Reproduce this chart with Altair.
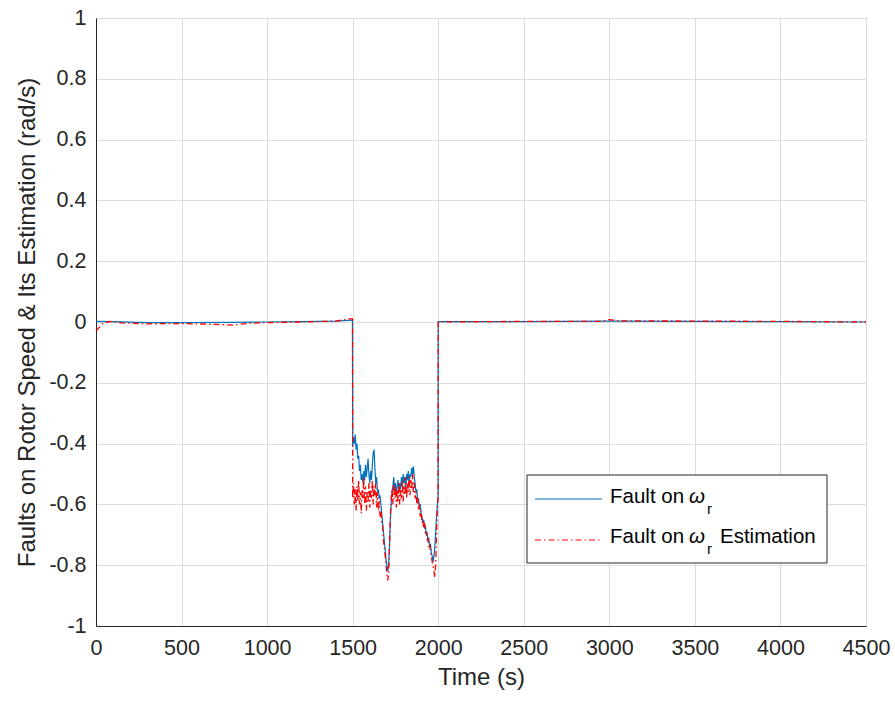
import altair as alt
import pandas as pd

# ---- fault signal on rotor speed (blue) ----
t_fault_pre = [0, 100, 300, 500, 800, 1000, 1200, 1400, 1499]
v_fault_pre = [0.002, 0.001, -0.002, -0.002, -0.001, 0.0, 0.001, 0.003, 0.006]

t_fault_mid = list(range(1500, 2000, 5)) + [1999]
v_fault_mid = [
    -0.41, -0.38, -0.40, -0.37, -0.42, -0.40, -0.45, -0.44, -0.49, -0.47,
    -0.52, -0.50, -0.53, -0.49, -0.52, -0.47, -0.51, -0.48, -0.45, -0.50,
    -0.53, -0.49, -0.52, -0.47, -0.43, -0.42, -0.48, -0.53, -0.51, -0.56,
    -0.55, -0.58, -0.57, -0.60, -0.63, -0.66, -0.69, -0.72, -0.75, -0.78,
    -0.80, -0.82, -0.80, -0.74, -0.66, -0.60, -0.56, -0.54, -0.51, -0.55,
    -0.53, -0.57, -0.54, -0.52, -0.56, -0.53, -0.55, -0.51, -0.54, -0.50,
    -0.53, -0.51, -0.55, -0.50, -0.52, -0.49, -0.53, -0.50, -0.51, -0.48,
    -0.50, -0.475, -0.51, -0.53, -0.56, -0.55, -0.59, -0.58, -0.61, -0.60,
    -0.63, -0.64, -0.66, -0.65, -0.68, -0.67, -0.70, -0.69, -0.72, -0.71,
    -0.74, -0.73, -0.76, -0.77, -0.79, -0.77, -0.74, -0.69, -0.64, -0.60,
    -0.58,
]

t_fault_post = [2000, 2500, 3000, 3500, 4000, 4500]
v_fault_post = [0.001, 0.001, 0.003, 0.002, 0.001, 0.0]

# ---- estimated fault (red, dash-dot) ----
t_est_pre = [0, 15, 40, 80, 150, 300, 500, 700, 800, 900, 1000, 1200, 1400, 1480, 1499]
v_est_pre = [-0.03, -0.02, -0.005, 0.002, -0.003, -0.006, -0.005, -0.008, -0.01,
             -0.004, -0.002, 0.0, 0.003, 0.01, 0.01]

t_est_mid = list(range(1500, 2000, 5)) + [1999]
v_est_mid = [
    -0.58, -0.53, -0.60, -0.55, -0.62, -0.54, -0.59, -0.52, -0.60, -0.56,
    -0.63, -0.55, -0.58, -0.51, -0.60, -0.54, -0.62, -0.56, -0.59, -0.53,
    -0.61, -0.55, -0.58, -0.52, -0.60, -0.54, -0.57, -0.53, -0.61, -0.56,
    -0.62, -0.59, -0.64, -0.62, -0.66, -0.67, -0.72, -0.74, -0.77, -0.80,
    -0.83, -0.85, -0.83, -0.74, -0.64, -0.58, -0.55, -0.60, -0.53, -0.58,
    -0.54, -0.61, -0.55, -0.59, -0.53, -0.60, -0.55, -0.58, -0.52, -0.59,
    -0.54, -0.57, -0.51, -0.58, -0.53, -0.56, -0.51, -0.57, -0.52, -0.55,
    -0.50, -0.56, -0.53, -0.58, -0.56, -0.60, -0.58, -0.62, -0.60, -0.64,
    -0.62, -0.66, -0.65, -0.68, -0.66, -0.70, -0.69, -0.72, -0.71, -0.74,
    -0.73, -0.76, -0.77, -0.79, -0.80, -0.82, -0.84, -0.80, -0.70, -0.62,
    -0.57,
]

t_est_post = [2000, 2500, 2950, 3000, 3050, 3500, 4000, 4500]
v_est_post = [0.0, 0.002, 0.002, 0.008, 0.004, 0.003, 0.002, 0.0]

x_ticks = [0, 500, 1000, 1500, 2000, 2500, 3000, 3500, 4000, 4500]
y_ticks = [-1, -0.8, -0.6, -0.4, -0.2, 0, 0.2, 0.4, 0.6, 0.8, 1]

fault = pd.DataFrame({
    "t": t_fault_pre + t_fault_mid + t_fault_post,
    "v": v_fault_pre + v_fault_mid + v_fault_post,
})
est = pd.DataFrame({
    "t": t_est_pre + t_est_mid + t_est_post,
    "v": v_est_pre + v_est_mid + v_est_post,
})

FONT = "Liberation Sans"
INK = "#262626"

x_enc = alt.X(
    "t:Q",
    scale=alt.Scale(domain=[0, 4500], nice=False, zero=False),
    axis=alt.Axis(values=x_ticks, title="Time (s)", labelPadding=11, titlePadding=7,
                  labelExpr="toString(datum.value)", labelFlush=False),
)
y_enc = alt.Y(
    "v:Q",
    scale=alt.Scale(domain=[-1, 1], nice=False),
    axis=alt.Axis(values=y_ticks, title="Faults on Rotor Speed & Its Estimation (rad/s)",
                  labelExpr="toString(round(datum.value*10)/10)",
                  labelPadding=10, titlePadding=9, labelFlush=False),
)

blue_line = alt.Chart(fault).mark_line(color="#0072BD", strokeWidth=1.2).encode(
    x=x_enc, y=y_enc, order="t:Q"
)
red_line = alt.Chart(est).mark_line(
    color="#FF0000", strokeWidth=1.3, strokeDash=[6, 3, 1.5, 3]
).encode(x="t:Q", y="v:Q", order="t:Q")

# legend box
legend_df = pd.DataFrame({"k": [0]})
box = alt.Chart(legend_df).mark_rect(fill="white", stroke=INK, strokeWidth=1).encode(
    x=alt.value(431), x2=alt.value(731), y=alt.value(457), y2=alt.value(545)
)
sw1 = alt.Chart(legend_df).mark_rule(color="#0072BD", strokeWidth=1).encode(
    x=alt.value(439), x2=alt.value(506), y=alt.value(481)
)
sw2 = alt.Chart(legend_df).mark_rule(
    color="#FF0000", strokeWidth=1, strokeDash=[6, 3, 1.5, 3]
).encode(x=alt.value(439), x2=alt.value(506), y=alt.value(522))

LFS = 20.5
def label(txt, x, y, size=LFS, style="normal"):
    return alt.Chart(legend_df).mark_text(
        text=txt, font=FONT, fontSize=size, fontStyle=style, color="black",
        align="left", baseline="middle"
    ).encode(x=alt.value(x), y=alt.value(y))

legend = (
    box + sw1 + sw2
    + label("Fault on", 514, 479) + label("ω", 593, 479, style="italic")
    + label("r", 611, 491, 15)
    + label("Fault on", 514, 519) + label("ω", 593, 519, style="italic")
    + label("r", 611, 531, 15)
    + label("Estimation", 624, 519)
)

chart = (blue_line + red_line + legend).properties(
    width=770,
    height=608,
    background="white",
    autosize=alt.AutoSizeParams(type="none"),
    padding={"left": 96, "top": 18, "right": 29, "bottom": 75},
).configure_view(
    stroke=INK, strokeWidth=1
).configure_axis(
    labelFont=FONT, titleFont=FONT, labelFontSize=21.5, titleFontSize=24,
    labelColor=INK, titleColor=INK, titleFontWeight="normal",
    domainColor=INK, domainWidth=1, tickSize=0,
    gridColor="#dcdcdc", gridWidth=1,
)

chart.save("out.html", embed_options={"renderer": "svg", "actions": False})
